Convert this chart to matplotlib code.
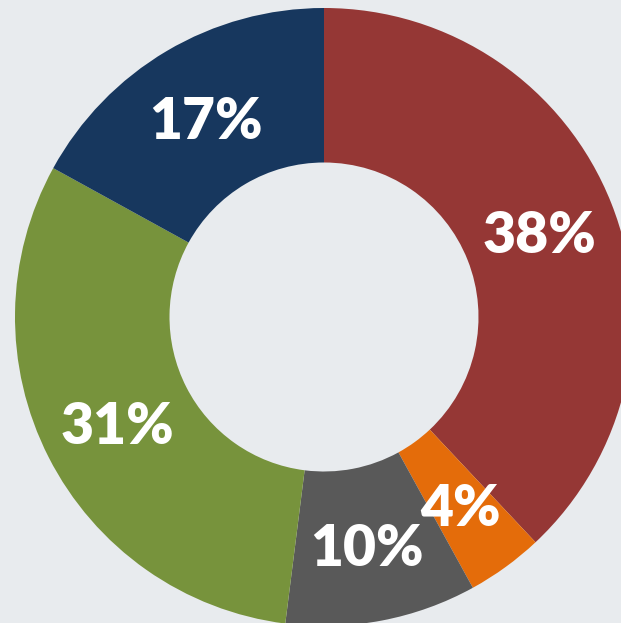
import matplotlib
matplotlib.use("Agg")
import matplotlib.pyplot as plt

# share of each segment, clockwise from 12 o'clock
labels = ["A", "B", "C", "D", "E"]
shares = [38, 4, 10, 31, 17]
colors = ["#953735", "#E46C0A", "#595959", "#77933C", "#17375E"]

W, H = 621, 623
cx, cy, R = 324, 317, 309   # ring centre and outer radius in pixels
bg = "#e8ebee"

fig = plt.figure(figsize=(W / 100, H / 100), dpi=100)
fig.patch.set_facecolor(bg)
ax = fig.add_axes([0, 0, 1, 1])
ax.set_facecolor(bg)

wedges, texts, autotexts = ax.pie(
    shares,
    colors=colors,
    startangle=90,
    counterclock=False,
    radius=1.0,
    pctdistance=0.75,
    autopct=lambda p: f"{p:.0f}%",
    wedgeprops=dict(width=0.5, edgecolor="none", antialiased=True),
    textprops=dict(color="white", fontsize=41, fontweight="heavy", family="Lato"),
)
for t in autotexts:
    t.set_va("center_baseline")

ax.set_xlim(-cx / R, (W - cx) / R)
ax.set_ylim(-(H - cy) / R, cy / R)
ax.set_aspect("auto")
ax.axis("off")

fig.savefig("out.png", dpi=100, facecolor=fig.get_facecolor())
